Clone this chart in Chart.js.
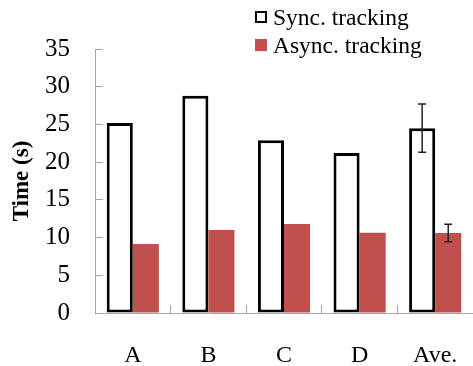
<!DOCTYPE html>
<html>
<head>
<meta charset="utf-8">
<script src="https://cdn.jsdelivr.net/npm/chart.js@4.4.0/dist/chart.umd.min.js"></script>
<style>
	body { margin: 0; background: #fff; }
	#wrap { position: relative; width: 473px; height: 366px; }
	#legend { position: absolute; left: 255px; top: 3px; font-family: "Liberation Serif", serif; font-size: 23.5px; color: #000; }
	.item { display: flex; align-items: center; height: 28px; white-space: nowrap; }
	.box { width: 12px; height: 12px; margin-right: 6px; box-sizing: border-box; }
</style>
</head>
<body>
<div id="wrap">
	<canvas id="myChart" width="473" height="366"></canvas>
	<div id="legend"></div>
</div>
<script>
// values
var categories = ['A', 'B', 'C', 'D', 'Ave.'];
var seriesNames = ['Sync. tracking', 'Async. tracking'];
var syncTime = [25.2, 28.8, 22.9, 21.2, 24.5];
var asyncTime = [9.15, 11.0, 11.8, 10.65, 10.6];
var syncErr = [null, null, null, null, 3.2];
var asyncErr = [null, null, null, null, 1.15];
var yMax = 35;
var yStep = 5;

var serif = 'Liberation Serif';
var axisGray = '#a6a6a6';

// draws the error bars on top of the bars
var errorBars = {
	id: 'errorBars',
	afterDatasetsDraw: function(chart) {
		var ctx = chart.ctx;
		var yScale = chart.scales.y;
		chart.data.datasets.forEach(function(ds, i) {
			if (!ds.errors) return;
			var meta = chart.getDatasetMeta(i);
			ds.errors.forEach(function(e, j) {
				if (e == null) return;
				var x = meta.data[j].x;
				var top = yScale.getPixelForValue(ds.data[j] + e);
				var bot = yScale.getPixelForValue(ds.data[j] - e);
				ctx.save();
				ctx.strokeStyle = '#222';
				ctx.lineWidth = 1.5;
				ctx.beginPath();
				ctx.moveTo(x, top); ctx.lineTo(x, bot);
				ctx.moveTo(x - 4, top); ctx.lineTo(x + 4, top);
				ctx.moveTo(x - 4, bot); ctx.lineTo(x + 4, bot);
				ctx.stroke();
				ctx.restore();
			});
		});
	}
};

function buildLegend() {
	var legend = document.getElementById('legend');
	var styles = ['border:2.5px solid #000;background:#fff;', 'background:#C0504D;'];
	seriesNames.forEach(function(name, i) {
		legend.innerHTML += '<div class="item"><span class="box" style="' + styles[i] + '"></span>' + name + '</div>';
	});
}

function loadChart() {
	var ctx = document.getElementById('myChart');
	new Chart(ctx, {
		type: 'bar',
		data: {
			labels: categories,
			datasets: [
				{
					label: seriesNames[0],
					data: syncTime,
					errors: syncErr,
					backgroundColor: '#ffffff',
					borderColor: '#000000',
					borderWidth: 3,
					borderSkipped: false
				},
				{
					label: seriesNames[1],
					data: asyncTime,
					errors: asyncErr,
					backgroundColor: '#C0504D',
					borderWidth: 0
				}
			]
		},
		options: {
			responsive: false,
			animation: false,
			categoryPercentage: 0.69,
			barPercentage: 1,
			layout: { padding: { top: 49, right: 0, bottom: 0, left: 0 } },
			plugins: {
				legend: { display: false },
				tooltip: { enabled: false }
			},
			scales: {
				x: {
					grid: { drawOnChartArea: false, tickLength: -8, color: axisGray, offset: true },
					border: { color: axisGray },
					ticks: { color: '#000', padding: 12, font: { family: serif, size: 24, lineHeight: 3.2 } },
					afterFit: function(s) { s.height = 53; }
				},
				y: {
					min: 0,
					max: yMax,
					grid: { drawOnChartArea: false, tickLength: -8, color: axisGray },
					border: { color: axisGray },
					ticks: { stepSize: yStep, color: '#000', padding: 33, font: { family: serif, size: 25 } },
					title: {
						display: true,
						text: 'Time (s)',
						color: '#000',
						font: { family: serif, size: 23, weight: 'bold' },
						padding: { top: 8, bottom: 0 }
					},
					afterFit: function(s) { s.width = 95; }
				}
			}
		},
		plugins: [errorBars]
	});
}

buildLegend();
loadChart();
</script>
</body>
</html>
